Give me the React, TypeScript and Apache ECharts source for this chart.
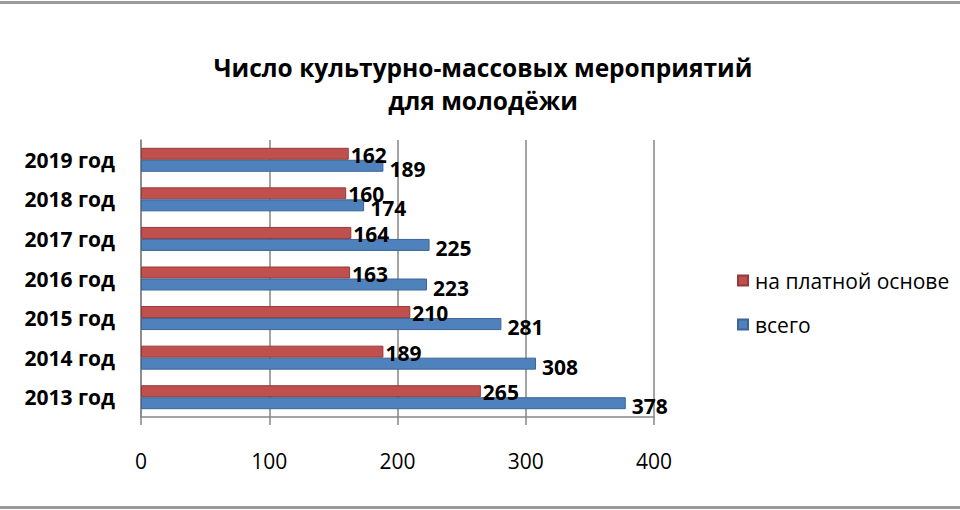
import React, { useEffect, useRef } from "react";
import * as echarts from "echarts";

const categories = ["2013 год", "2014 год", "2015 год", "2016 год", "2017 год", "2018 год", "2019 год"];
const paidValues = [265, 189, 210, 163, 164, 160, 162];
const totalValues = [378, 308, 281, 223, 225, 174, 189];
const seriesNames = ["на платной основе", "всего"];
const xTicks = { min: 0, max: 400, interval: 100 };

const FONT = "'Open Sans', 'Noto Sans', sans-serif";

export default function App() {
  const ref = useRef<HTMLDivElement>(null);
  useEffect(() => {
    if (!ref.current) return;
    const chart = echarts.init(ref.current, null, { renderer: "svg" });
    const labelStyle = {
      show: true,
      position: "right",
      fontFamily: FONT,
      fontWeight: "bold",
      fontSize: 21,
      color: "#000",
    };
    chart.setOption({
      animation: false,
      backgroundColor: "#fff",
      title: {
        text: "Число культурно-массовых мероприятий\nдля молодёжи",
        left: 478,
        textAlign: "center",
        top: 46,
        textStyle: {
          fontFamily: FONT,
          fontWeight: "bold",
          fontSize: 24.5,
          lineHeight: 33,
          color: "#000",
        },
      },
      legend: {
        orient: "vertical",
        left: 732,
        top: 265,
        itemWidth: 10,
        itemHeight: 10,
        itemGap: 23,
        icon: "rect",
        data: [seriesNames[0], seriesNames[1]],
        textStyle: { fontFamily: FONT, fontSize: 21, color: "#000", padding: [0, 0, 0, 2] },
      },
      grid: { left: 141, top: 140, width: 513, height: 277, containLabel: false },
      xAxis: {
        type: "value",
        min: xTicks.min,
        max: xTicks.max,
        interval: xTicks.interval,
        axisLine: { show: true, lineStyle: { color: "#868686", width: 1.5 } },
        axisTick: { show: true, length: 8, lineStyle: { color: "#868686", width: 1.5 } },
        axisLabel: { margin: 33, fontFamily: FONT, fontSize: 21, color: "#000" },
        splitLine: { show: true, lineStyle: { color: "#868686", width: 1.5 } },
      },
      yAxis: {
        type: "category",
        data: categories,
        axisLine: { show: true, lineStyle: { color: "#868686", width: 1.5 } },
        axisTick: { show: false },
        axisLabel: { margin: 26, fontFamily: FONT, fontWeight: "bold", fontSize: 21, color: "#000" },
      },
      series: [
        {
          name: seriesNames[0],
          type: "bar",
          data: paidValues,
          barWidth: 12,
          barGap: "0%",
          itemStyle: { color: "#C0504D", borderColor: "#943B39", borderWidth: 1 },
          label: { ...labelStyle, distance: 2, offset: [0, 1] },
        },
        {
          name: seriesNames[1],
          type: "bar",
          data: totalValues,
          barWidth: 12,
          barGap: "0%",
          itemStyle: { color: "#4F81BD", borderColor: "#3C6596", borderWidth: 1 },
          label: { ...labelStyle, distance: 6, offset: [0, 3] },
        },
      ],
      graphic: [
        { type: "rect", left: 0, top: 1, shape: { width: 960, height: 3 }, style: { fill: "#9a9a9a" } },
        { type: "rect", left: 0, top: 506, shape: { width: 960, height: 3 }, style: { fill: "#9a9a9a" } },
      ],
    });
    return () => chart.dispose();
  }, []);
  return (
    <div
      ref={ref}
      style={{ position: "fixed", left: 0, top: 0, width: 960, height: 510 }}
    />
  );
}
